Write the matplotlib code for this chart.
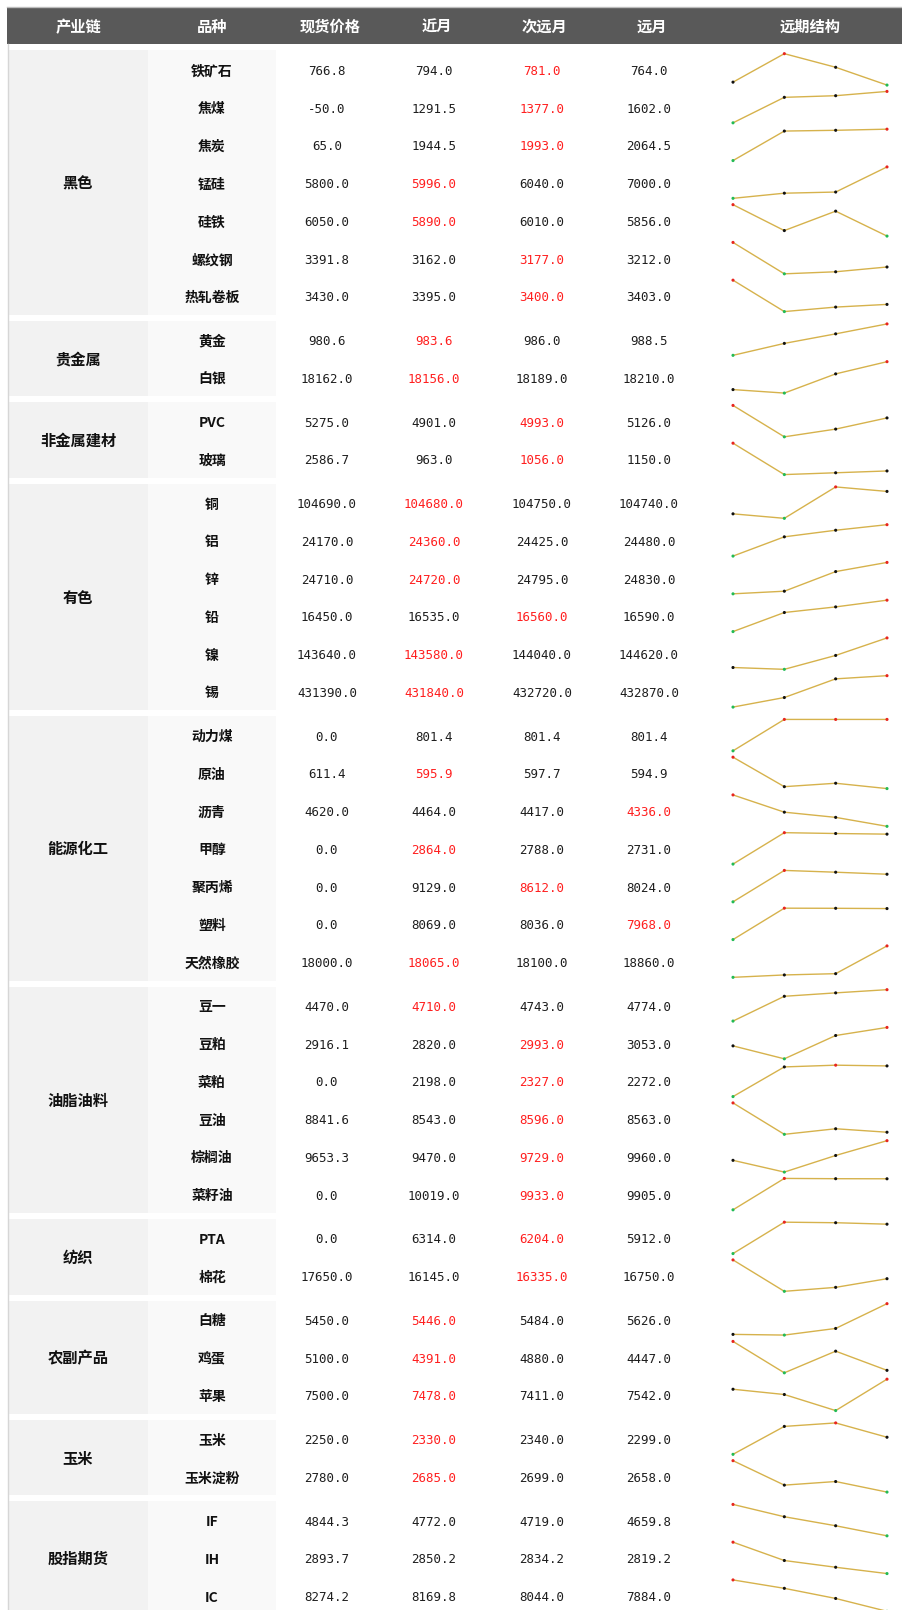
import numpy as np
import matplotlib
matplotlib.use("Agg")
import matplotlib.pyplot as plt
from matplotlib.patches import Rectangle

plt.rcParams['font.family'] = ['Noto Sans CJK SC', 'DejaVu Sans']

# ---- data ----
headers = ['产业链', '品种', '现货价格', '近月', '次远月', '远月', '远期结构']
groups = ['黑色', '贵金属', '非金属建材', '有色', '能源化工', '油脂油料', '纺织', '农副产品', '玉米', '股指期货']
group_counts = [7, 2, 2, 6, 7, 6, 2, 3, 2, 3]
varieties = ['铁矿石', '焦煤', '焦炭', '锰硅', '硅铁', '螺纹钢', '热轧卷板',
             '黄金', '白银',
             'PVC', '玻璃',
             '铜', '铝', '锌', '铅', '镍', '锡',
             '动力煤', '原油', '沥青', '甲醇', '聚丙烯', '塑料', '天然橡胶',
             '豆一', '豆粕', '菜粕', '豆油', '棕榈油', '菜籽油',
             'PTA', '棉花',
             '白糖', '鸡蛋', '苹果',
             '玉米', '玉米淀粉',
             'IF', 'IH', 'IC']
spot = [766.8, -50.0, 65.0, 5800.0, 6050.0, 3391.8, 3430.0,
        980.6, 18162.0,
        5275.0, 2586.7,
        104690.0, 24170.0, 24710.0, 16450.0, 143640.0, 431390.0,
        0.0, 611.4, 4620.0, 0.0, 0.0, 0.0, 18000.0,
        4470.0, 2916.1, 0.0, 8841.6, 9653.3, 0.0,
        0.0, 17650.0,
        5450.0, 5100.0, 7500.0,
        2250.0, 2780.0,
        4844.3, 2893.7, 8274.2]
near = [794.0, 1291.5, 1944.5, 5996.0, 5890.0, 3162.0, 3395.0,
        983.6, 18156.0,
        4901.0, 963.0,
        104680.0, 24360.0, 24720.0, 16535.0, 143580.0, 431840.0,
        801.4, 595.9, 4464.0, 2864.0, 9129.0, 8069.0, 18065.0,
        4710.0, 2820.0, 2198.0, 8543.0, 9470.0, 10019.0,
        6314.0, 16145.0,
        5446.0, 4391.0, 7478.0,
        2330.0, 2685.0,
        4772.0, 2850.2, 8169.8]
next_far = [781.0, 1377.0, 1993.0, 6040.0, 6010.0, 3177.0, 3400.0,
            986.0, 18189.0,
            4993.0, 1056.0,
            104750.0, 24425.0, 24795.0, 16560.0, 144040.0, 432720.0,
            801.4, 597.7, 4417.0, 2788.0, 8612.0, 8036.0, 18100.0,
            4743.0, 2993.0, 2327.0, 8596.0, 9729.0, 9933.0,
            6204.0, 16335.0,
            5484.0, 4880.0, 7411.0,
            2340.0, 2699.0,
            4719.0, 2834.2, 8044.0]
far = [764.0, 1602.0, 2064.5, 7000.0, 5856.0, 3212.0, 3403.0,
       988.5, 18210.0,
       5126.0, 1150.0,
       104740.0, 24480.0, 24830.0, 16590.0, 144620.0, 432870.0,
       801.4, 594.9, 4336.0, 2731.0, 8024.0, 7968.0, 18860.0,
       4774.0, 3053.0, 2272.0, 8563.0, 9960.0, 9905.0,
       5912.0, 16750.0,
       5626.0, 4447.0, 7542.0,
       2299.0, 2658.0,
       4659.8, 2819.2, 7884.0]
# which contract is the main one (shown in red): 1=近月 2=次远月 3=远月 0=none
main_col = [2, 2, 2, 1, 1, 2, 2,
            1, 1,
            2, 2,
            1, 1, 1, 2, 1, 1,
            0, 1, 3, 1, 2, 3, 1,
            1, 2, 2, 2, 2, 2,
            2, 2,
            1, 1, 1,
            1, 1,
            0, 0, 0]

# ---- layout (pixels) ----
W, H = 902, 1610
header_top, header_bot = 7, 44
body_top = 50.5
row_h = 37.75
gap = 6
head_x = [78, 212, 330, 437, 544, 652, 810]
val_x = [327, 434, 542, 649]
spark_x0, spark_x1 = 733, 887
spark_half = 15.7
text_dy = 2

fig = plt.figure(figsize=(W / 100, H / 100), dpi=100)
ax = fig.add_axes([0, 0, 1, 1])
ax.set_xlim(0, W)
ax.set_ylim(H, 0)
ax.axis('off')

# header
ax.add_patch(Rectangle((7, header_top), W - 7, header_bot - header_top, color='#595959', lw=0))
ax.plot([7, W], [header_top, header_top], color='#bdbdbd', lw=1)
for hx, h in zip(head_x, headers):
    ax.text(hx, (header_top + header_bot) / 2 + 1.5, h, color='white', fontsize=11,
            fontweight='bold', ha='center', va='center')

# left border
ax.plot([7.5, 7.5], [header_bot, H], color='#d6d6d6', lw=1)

num_font = dict(family='DejaVu Sans Mono', fontsize=9, ha='center', va='center')

row = 0
for k, (g, n) in enumerate(zip(groups, group_counts)):
    gtop = body_top + row * row_h + k * gap
    ax.add_patch(Rectangle((8, gtop), 140, n * row_h, color='#f2f2f2', lw=0))
    ax.add_patch(Rectangle((148, gtop), 128, n * row_h, color='#f9f9f9', lw=0))
    ax.text(head_x[0], gtop + n * row_h / 2 + 1, g, fontsize=11, fontweight='bold',
            color='#111111', ha='center', va='center')
    for i in range(n):
        cy = gtop + (i + 0.5) * row_h
        ax.text(head_x[1], cy + text_dy, varieties[row], fontsize=10, fontweight='bold',
                color='#111111', ha='center', va='center')
        vals = [spot[row], near[row], next_far[row], far[row]]
        for j, v in enumerate(vals):
            c = '#ff1f1f' if (j > 0 and main_col[row] == j) else '#1e1e1e'
            ax.text(val_x[j], cy + text_dy, f"{v:.1f}", color=c, **num_font)

        # sparkline for the term structure
        sa = fig.add_axes([spark_x0 / W, 1 - (cy + spark_half) / H,
                           (spark_x1 - spark_x0) / W, 2 * spark_half / H])
        sa.axis('off')
        vals = np.array(vals)
        xs = np.arange(len(vals))
        sa.plot(xs, vals, color='#d6b24c', lw=1.0, clip_on=False, zorder=1)
        cols = ['#e8251f' if v == vals.max() else ('#22bb55' if v == vals.min() else '#111111')
                for v in vals]
        sa.scatter(xs, vals, s=5, c=cols, zorder=2, clip_on=False, linewidths=0)
        sa.set_xlim(0, len(vals) - 1)
        lo, hi = vals.min(), vals.max()
        if hi == lo:
            hi = lo + 1
        sa.set_ylim(lo, hi)
        row += 1

fig.savefig('out.png', dpi=100)
